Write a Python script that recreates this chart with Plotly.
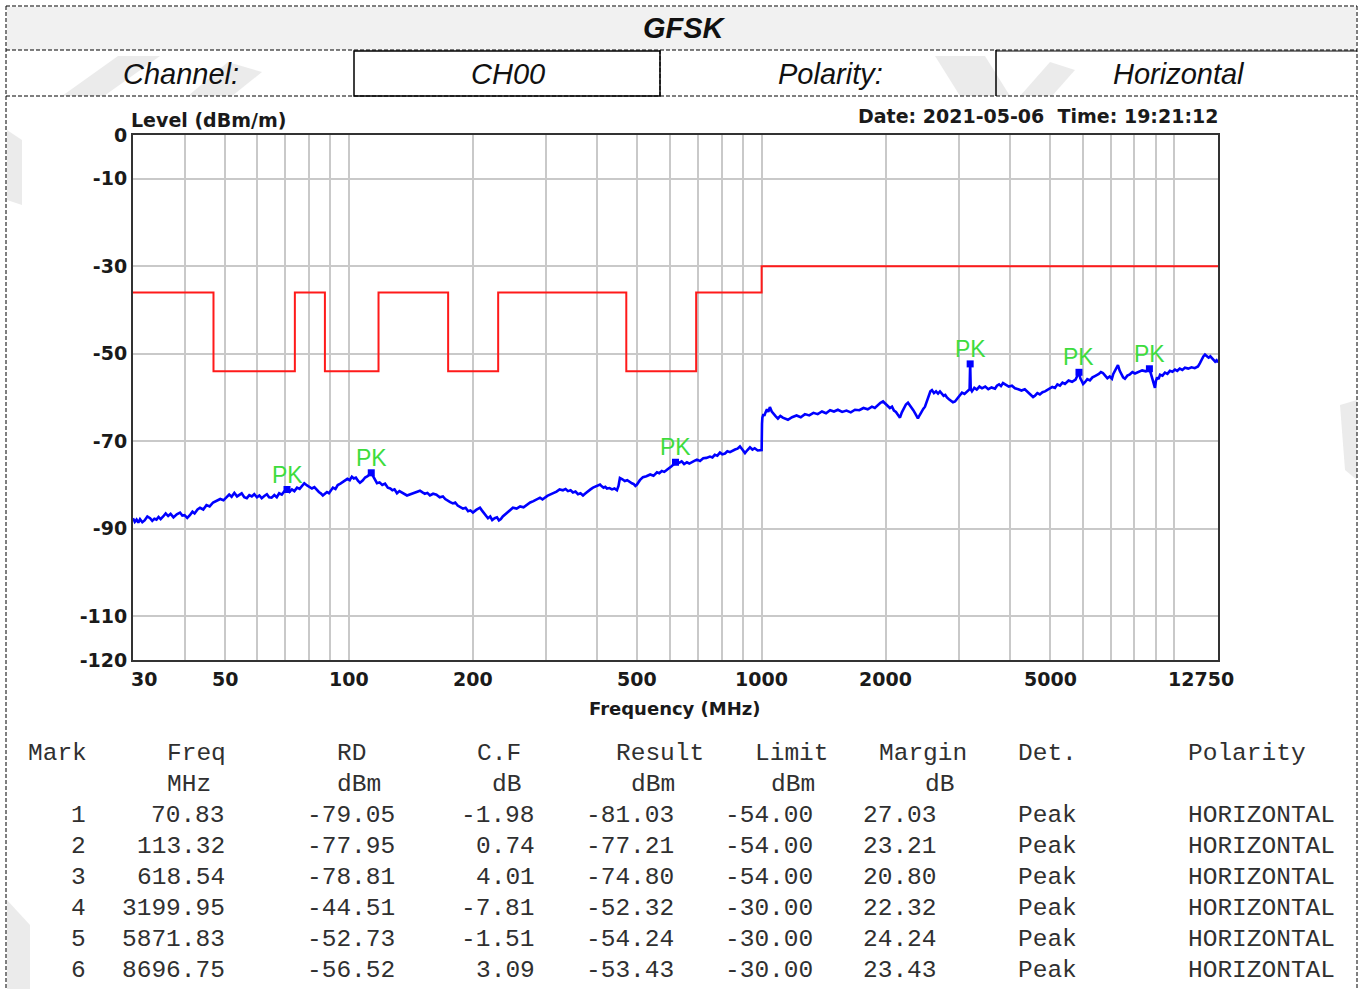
import math
import plotly.graph_objects as go

# ---------------- data ----------------
# measured trace (frequency MHz, level dBm) read from the picture
trace_points = [
    (30, -87.6), (30.3, -88.4), (30.6, -87.9), (30.9, -88.6), (31.2, -87.8), (31.6, -88.5),
    (32.0, -88.1), (32.5, -87.2), (33.0, -87.6), (33.4, -88.2), (33.8, -87.7), (34.2, -87.9),
    (34.6, -87.3), (35.0, -87.8), (35.5, -87.2), (36.0, -86.5), (36.5, -87.1), (37.0, -86.6),
    (37.6, -87.4), (38.3, -86.7), (39.0, -86.3), (39.5, -87.0), (40.0, -86.9), (40.6, -87.5),
    (41.2, -86.9), (41.8, -86.1), (42.3, -86.5), (43.0, -85.6), (43.6, -85.2), (44.4, -85.6),
    (45.2, -84.6), (46.0, -84.9), (46.9, -84.0), (47.8, -83.6), (48.8, -83.2), (49.7, -83.5),
    (50.7, -82.6), (51.3, -82.2), (52.0, -82.7), (52.8, -81.8), (53.6, -82.6), (54.3, -82.2),
    (55.0, -81.9), (55.8, -82.8), (56.6, -83.0), (57.4, -82.3), (58.2, -82.6), (59.0, -82.1),
    (59.9, -82.8), (60.7, -82.4), (61.5, -83.0), (62.4, -82.5), (63.3, -82.1), (64.1, -82.8),
    (65.0, -82.9), (66.0, -82.3), (66.9, -82.8), (67.8, -81.9), (68.8, -82.2), (69.8, -81.4),
    (70.83, -81.03), (71.8, -81.6), (72.8, -81.0), (73.8, -81.4), (74.9, -80.6), (76.0, -80.9),
    (77.0, -80.2), (78.0, -79.6), (79.2, -80.1), (80.3, -80.4), (81.4, -80.8), (82.5, -80.5),
    (83.7, -81.2), (84.6, -81.6), (85.5, -81.9), (86.5, -82.4), (87.5, -82.0), (88.5, -81.6),
    (89.5, -81.9), (90.5, -81.1), (91.5, -80.6), (92.8, -80.9), (94.0, -80.0), (95.4, -79.7),
    (96.8, -79.3), (98.0, -78.9), (99.2, -78.6), (100.5, -78.9), (101.7, -78.1), (102.8, -78.5),
    (104.0, -78.3), (105.2, -79.0), (106.4, -79.5), (108.0, -79.0), (109.5, -78.3), (111.0, -78.0),
    (112.2, -77.6), (113.32, -77.21), (114.2, -77.8), (115.0, -78.4), (116.0, -79.0), (117.0, -79.6),
    (118.7, -79.4), (120.5, -80.0), (122.4, -79.7), (124.3, -80.6), (126.0, -80.8), (127.5, -81.2),
    (129.0, -81.0), (130.8, -81.9), (132.6, -81.4), (134.5, -81.7), (136.4, -82.0), (138.3, -82.4),
    (141.0, -82.1), (143.5, -81.8), (146.0, -81.5), (148.7, -81.3), (150.8, -81.7), (152.8, -82.0),
    (155.0, -81.8), (157.2, -82.4), (160.0, -82.0), (163.0, -82.2), (166.0, -82.8), (169.0, -82.6),
    (171.2, -83.2), (173.5, -83.6), (176.0, -83.9), (178.7, -84.2), (181.0, -84.0), (183.5, -84.7),
    (186.2, -85.0), (189.0, -85.4), (191.8, -85.2), (194.5, -86.0), (197.0, -85.8), (199.8, -86.3),
    (203.5, -85.7), (207.8, -85.2), (210.0, -85.8), (212.5, -86.5), (215.0, -87.0), (217.3, -87.6),
    (220.0, -87.2), (222.5, -88.0), (225.5, -87.6), (228.5, -87.4), (231.0, -88.1), (233.5, -87.8),
    (236.0, -87.2), (238.9, -86.8), (241.5, -86.4), (244.0, -86.0), (247.0, -85.6), (249.7, -85.2),
    (255.0, -85.4), (260.0, -84.9), (265.0, -85.1), (270.1, -84.5), (275.0, -84.0), (280.0, -83.7),
    (285.0, -83.3), (290.4, -82.9), (294.5, -83.3), (298.5, -82.8), (302.5, -82.5), (307.0, -82.2),
    (312.5, -81.9), (318.5, -81.5), (324.0, -81.0), (330.1, -81.2), (335.0, -80.9), (339.5, -81.4),
    (344.5, -81.2), (349.1, -81.7), (354.0, -81.5), (359.0, -82.1), (364.0, -81.9), (369.2, -82.4),
    (374.5, -81.9), (380.0, -81.3), (385.0, -81.0), (390.4, -80.6), (398.0, -80.3), (406.0, -79.9),
    (410.0, -80.3), (414.0, -80.6), (418.0, -80.4), (422.0, -80.8), (428.0, -80.7), (434.0, -81.0),
    (440.0, -80.8), (446.1, -81.2), (450.0, -80.2), (453.6, -78.4), (460.0, -78.7), (466.0, -79.1),
    (472.5, -78.9), (479.7, -79.4), (485.0, -79.6), (490.0, -79.8), (494.5, -80.2), (498.8, -79.9),
    (507.0, -78.9), (515.8, -78.2), (526.0, -78.0), (537.0, -77.6), (547.0, -77.9), (557.7, -77.1),
    (565.0, -77.3), (573.0, -76.8), (581.0, -77.0), (589.7, -76.5), (597.0, -76.0), (605.0, -75.7),
    (612.0, -75.3), (618.54, -74.80), (629.0, -75.0), (640.0, -74.6), (649.0, -75.2), (659.2, -74.8),
    (668.0, -75.1), (678.0, -74.7), (687.0, -74.5), (697.0, -74.2), (709.0, -74.5), (722.0, -73.9),
    (735.0, -73.8), (749.4, -73.5), (760.0, -73.7), (770.0, -73.1), (781.0, -73.3), (792.5, -72.6),
    (803.0, -73.0), (815.0, -72.8), (826.0, -72.3), (838.0, -72.5), (850.0, -72.1), (862.0, -71.9),
    (874.0, -71.7), (886.0, -71.2), (898.0, -71.9), (911.2, -72.7), (924.0, -72.0), (937.0, -71.4),
    (950.0, -71.9), (962.0, -71.6), (978.0, -72.1), (995.0, -72.0), (1000.0, -72.0), (1002, -66.0),
    (1004, -64.6), (1010, -63.8), (1015, -64.2), (1022, -63.4), (1030, -62.7), (1038, -63.3),
    (1047, -62.2), (1058, -63.2), (1070, -63.9), (1082, -64.3), (1095, -64.8), (1110, -64.2),
    (1125, -64.6), (1140, -64.9), (1158, -65.1), (1185, -64.5), (1215, -64.1), (1244, -64.5),
    (1273, -63.8), (1304, -64.1), (1335, -63.5), (1367, -63.8), (1400, -63.2), (1432, -63.6),
    (1465, -62.9), (1497, -63.2), (1530, -62.8), (1567, -63.3), (1605, -63.0), (1644, -63.4),
    (1683, -62.8), (1724, -62.9), (1765, -62.4), (1807, -62.7), (1850, -62.1), (1880, -62.4),
    (1910, -61.7), (1940, -61.2), (1968, -60.9), (1994, -61.4), (2020, -61.8), (2045, -62.4),
    (2069, -62.1), (2092, -63.0), (2115, -63.3), (2140, -64.0), (2163, -64.6), (2186, -63.4),
    (2210, -62.5), (2236, -61.6), (2262, -61.2), (2296, -62.0), (2330, -62.9), (2360, -63.8),
    (2391, -64.8), (2415, -64.0), (2440, -63.2), (2463, -62.6), (2487, -62.1), (2513, -60.9),
    (2540, -59.8), (2563, -58.6), (2586, -58.3), (2615, -59.0), (2645, -58.6), (2675, -59.1),
    (2704, -58.6), (2730, -59.2), (2760, -59.6), (2785, -59.4), (2811, -60.0), (2843, -60.4),
    (2875, -60.8), (2907, -61.1), (2940, -60.9), (2970, -60.4), (3000, -60.0), (3028, -59.4),
    (3057, -58.9), (3100, -59.2), (3150, -58.6), (3190, -58.1), (3199.95, -52.32), (3210, -58.1),
    (3232, -58.6), (3275, -57.8), (3320, -58.2), (3370, -57.5), (3418, -57.9), (3480, -57.5),
    (3540, -58.1), (3605, -57.7), (3675, -58.0), (3715, -57.3), (3760, -57.0), (3800, -57.4),
    (3843, -56.7), (3905, -57.1), (3970, -57.5), (4040, -57.3), (4108, -57.9), (4185, -58.1),
    (4260, -58.4), (4340, -58.1), (4417, -58.8), (4460, -59.2), (4500, -59.5), (4545, -59.9),
    (4593, -59.6), (4655, -59.0), (4720, -59.3), (4790, -58.8), (4857, -58.6), (4925, -58.2),
    (4990, -58.0), (5060, -57.6), (5135, -57.8), (5205, -57.0), (5280, -57.3), (5355, -56.6),
    (5429, -56.9), (5540, -56.1), (5650, -56.4), (5760, -55.9), (5871.83, -54.24), (5915, -55.6),
    (5960, -56.2), (6010, -56.9), (6070, -56.5), (6150, -55.8), (6240, -56.1), (6330, -55.4),
    (6418, -55.1), (6490, -54.9), (6560, -54.6), (6635, -54.2), (6711, -54.4), (6795, -55.0),
    (6880, -55.6), (6970, -55.2), (7056, -55.7), (7110, -54.6), (7170, -54.0), (7235, -53.2),
    (7297, -52.6), (7370, -53.9), (7440, -54.8), (7510, -55.4), (7587, -55.7), (7690, -55.0),
    (7800, -54.7), (7910, -54.2), (8023, -54.5), (8180, -54.1), (8350, -53.8), (8520, -54.0),
    (8696.75, -53.43), (8760, -54.4), (8830, -55.6), (8900, -56.8), (8970, -57.8), (9020, -56.2),
    (9080, -55.4), (9150, -55.8), (9230, -54.8), (9355, -55.0), (9484, -54.3), (9615, -54.6),
    (9750, -53.9), (9890, -54.1), (10028, -53.6), (10160, -53.9), (10300, -53.4), (10450, -53.7),
    (10602, -53.2), (10800, -53.4), (11000, -53.1), (11200, -53.3), (11403, -52.9), (11520, -52.2),
    (11650, -51.2), (11750, -50.6), (11856, -50.2), (11980, -50.5), (12100, -50.9), (12215, -50.6),
    (12330, -51.1), (12440, -51.4), (12550, -51.8), (12650, -51.5), (12750, -52.0),
]
trace_freq = [p[0] for p in trace_points]
trace_level = [p[1] for p in trace_points]

limit_freq = [30, 47, 74, 87.5, 118, 174, 230, 470, 694, 1000, 12750]
limit_level = [-36, -54, -36, -54, -36, -54, -36, -54, -36, -30, -30]

marks = [1, 2, 3, 4, 5, 6]
mark_freq = [70.83, 113.32, 618.54, 3199.95, 5871.83, 8696.75]
mark_rd = [-79.05, -77.95, -78.81, -44.51, -52.73, -56.52]
mark_cf = [-1.98, 0.74, 4.01, -7.81, -1.51, 3.09]
mark_result = [-81.03, -77.21, -74.80, -52.32, -54.24, -53.43]
mark_limit = [-54.00, -54.00, -54.00, -30.00, -30.00, -30.00]
mark_margin = [27.03, 23.21, 20.80, 22.32, 24.24, 23.43]
mark_det = ["Peak"] * 6
mark_pol = ["HORIZONTAL"] * 6

x_grid = [30, 40, 50, 60, 70, 80, 90, 100, 200, 300, 400, 500, 600, 700, 800, 900,
          1000, 2000, 3000, 4000, 5000, 6000, 7000, 8000, 9000, 10000, 12750]
x_labels = [30, 50, 100, 200, 500, 1000, 2000, 5000, 12750]
y_ticks = [0, -10, -30, -50, -70, -90, -110, -120]

# ---------------- geometry helpers ----------------
W, H = 1362, 989
L, R, T, B = 133, 1218, 135, 660


def px(x):
    return (x - L) / (R - L)


def py(y):
    return (B - y) / (B - T)


fig = go.Figure()

fig.add_trace(go.Scatter(x=limit_freq, y=limit_level, mode="lines",
                         line=dict(color="#ff1a1a", width=2, shape="hv"),
                         hoverinfo="skip", showlegend=False))
fig.add_trace(go.Scatter(x=trace_freq, y=trace_level, mode="lines",
                         line=dict(color="#0000ff", width=2.6),
                         showlegend=False))
fig.add_trace(go.Scatter(x=mark_freq, y=mark_result, mode="markers",
                         marker=dict(color="#0000ff", size=7, symbol="square"),
                         showlegend=False))

annotations = []
shapes = []

# faint watermark strokes in the page background
wm_col = "rgba(190,190,190,0.30)"


def wm(points):
    path = "M " + " L ".join(f"{px(a)},{py(b)}" for a, b in points) + " Z"
    shapes.append(dict(type="path", xref="paper", yref="paper", path=path,
                       fillcolor=wm_col, line=dict(width=0), layer="below"))


wm([(62, 96), (118, 56), (160, 56), (104, 96)])
wm([(188, 96), (228, 62), (262, 72), (232, 96)])
wm([(935, 56), (985, 56), (1010, 96), (960, 96)])
wm([(1020, 96), (1050, 62), (1075, 70), (1052, 96)])
wm([(7, 130), (22, 140), (22, 205), (7, 200)])
wm([(1340, 405), (1357, 400), (1357, 480), (1345, 470)])
wm([(7, 900), (30, 925), (30, 989), (7, 989)])

# PK labels
for f, r in zip(mark_freq, mark_result):
    annotations.append(dict(x=math.log10(f), y=r, xref="x", yref="y", text="PK",
                            showarrow=False, yshift=15, xanchor="center", yanchor="middle",
                            font=dict(family="Liberation Sans", size=23, color="#3ddc3d")))

lab_font = dict(family="DejaVu Sans", size=19, color="#1a1a1a", weight="bold")

# x tick labels
for v in x_labels:
    shift = 0
    if v == x_labels[0]:
        shift = 11
    elif v == x_labels[-1]:
        shift = -17
    annotations.append(dict(x=math.log10(v), y=py(679), xref="x", yref="paper", text=str(v),
                            showarrow=False, xanchor="center", yanchor="middle", xshift=shift,
                            font=lab_font))

annotations.append(dict(x=px(675), y=py(708), xref="paper", yref="paper", text="Frequency (MHz)",
                        showarrow=False, xanchor="center", yanchor="middle",
                        font=dict(family="DejaVu Sans", size=18, color="#1a1a1a", weight="bold")))
annotations.append(dict(x=px(129), y=py(120), xref="paper", yref="paper", text="Level (dBm/m)",
                        showarrow=False, xanchor="left", yanchor="middle", font=lab_font))
annotations.append(dict(x=px(1220), y=py(116), xref="paper", yref="paper",
                        text="Date: 2021-05-06\u00a0 Time: 19:21:12",
                        showarrow=False, xanchor="right", yanchor="middle", font=lab_font))

# header table
hdr_it = dict(family="Liberation Sans", size=29, color="#111111", style="italic")
annotations.append(dict(x=px(684), y=py(28), xref="paper", yref="paper", text="GFSK",
                        showarrow=False, xanchor="center", yanchor="middle",
                        font=dict(family="Liberation Sans", size=29, color="#111111",
                                  style="italic", weight="bold")))
for txt, cx in [("Channel:", 181), ("CH00", 508), ("Polarity:", 830), ("Horizontal", 1179)]:
    annotations.append(dict(x=px(cx), y=py(74), xref="paper", yref="paper", text=txt,
                            showarrow=False, xanchor="center", yanchor="middle", font=hdr_it))

# row backgrounds
shapes.append(dict(type="rect", xref="paper", yref="paper", x0=px(7), x1=px(1356),
                   y0=py(7), y1=py(50), fillcolor="#f1f1f1", line=dict(width=0), layer="below"))

dash = "4px,2px"


def hline(x0, x1, y, d=dash, w=1):
    shapes.append(dict(type="line", xref="paper", yref="paper", x0=px(x0), x1=px(x1),
                       y0=py(y), y1=py(y), line=dict(color="#000000", width=w, dash=d)))


def vline(x, y0, y1, d=dash, w=1):
    shapes.append(dict(type="line", xref="paper", yref="paper", x0=px(x), x1=px(x),
                       y0=py(y0), y1=py(y1), line=dict(color="#000000", width=w, dash=d)))


hline(6, 1357, 6)
hline(6, 1357, 50)
hline(6, 1357, 96)
vline(6, 6, 989)
vline(1357, 6, 989)
vline(660, 50, 96)
shapes.append(dict(type="rect", xref="paper", yref="paper", x0=px(354), x1=px(660),
                   y0=py(51), y1=py(96), line=dict(color="#000000", width=1.5)))
vline(996, 50, 96, d="solid", w=1.5)
hline(996, 1357, 51, d="solid", w=1.2)

# results table (monospace, column positions in character cells)
CW = 15.47
X0 = 26
mono = dict(family="Liberation Mono", size=24.5, color="#303030")


def put_left(text, col, ypix):
    annotations.append(dict(x=px(X0 + col * CW), y=py(ypix), xref="paper", yref="paper",
                            text=text, showarrow=False,
                            xanchor="left", yanchor="middle", font=mono))


def put_right(text, last_col, ypix):
    annotations.append(dict(x=px(X0 + (last_col + 1) * CW), y=py(ypix), xref="paper",
                            yref="paper", text=text, showarrow=False,
                            xanchor="right", yanchor="middle", font=mono))


headers = [("Mark", 0), ("Freq", 9), ("RD", 20), ("C.F", 29), ("Result", 38),
           ("Limit", 47), ("Margin", 55), ("Det.", 64), ("Polarity", 75)]
units = [("MHz", 9), ("dBm", 20), ("dB", 30), ("dBm", 39), ("dBm", 48), ("dB", 58)]
for t, c in headers:
    put_left(t, c, 753)
for t, c in units:
    put_left(t, c, 784)

num_cols = [(marks, 3, "{:d}"), (mark_freq, 12, "{:.2f}"), (mark_rd, 23, "{:.2f}"),
            (mark_cf, 32, "{:.2f}"), (mark_result, 41, "{:.2f}"), (mark_limit, 50, "{:.2f}"),
            (mark_margin, 58, "{:.2f}")]
for i in range(len(marks)):
    yrow = 815 + 31 * i
    for vals, last, fmt in num_cols:
        put_right(fmt.format(vals[i]), last, yrow)
    put_left(mark_det[i], 64, yrow)
    put_left(mark_pol[i], 75, yrow)

grid_col = "#c9c9c9"
fig.update_layout(
    width=W, height=H, autosize=False,
    margin=dict(l=L, r=W - R, t=T, b=H - B, pad=0),
    paper_bgcolor="#ffffff", plot_bgcolor="#ffffff",
    showlegend=False,
    xaxis=dict(type="log", range=[math.log10(30), math.log10(12750)],
               tickvals=x_grid, ticktext=[""] * len(x_grid), showticklabels=False,
               showgrid=True, gridcolor=grid_col, gridwidth=2, ticks="",
               showline=True, mirror=True, linecolor="#333333", linewidth=2, zeroline=False),
    yaxis=dict(range=[-120, 0], tickvals=y_ticks, ticktext=[str(v) for v in y_ticks],
               showgrid=True, gridcolor=grid_col, gridwidth=2, ticks="", zeroline=False,
               showline=True, mirror=True, linecolor="#333333", linewidth=2,
               tickfont=lab_font),
    annotations=annotations,
    shapes=shapes,
)

fig.write_html("out.html", config={"displayModeBar": False},
               post_script="document.body.style.margin='0';")
